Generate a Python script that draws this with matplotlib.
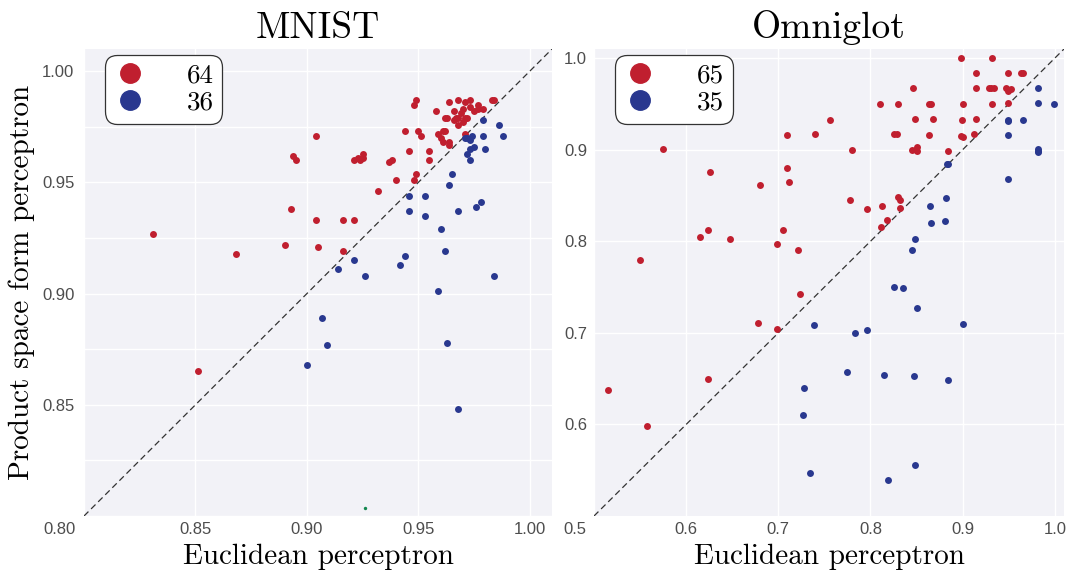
import matplotlib
matplotlib.use('Agg')
import matplotlib.pyplot as plt
import matplotlib.transforms as mtransforms
from matplotlib.lines import Line2D
from matplotlib.ticker import MultipleLocator

# MNIST: punkty nad przekatna (czerwone) i pod nia (niebieskie)
mnist_red_x = [0.831, 0.868, 0.890, 0.893, 0.894, 0.895, 0.904, 0.904, 0.905, 0.916,
               0.921, 0.916, 0.921, 0.923, 0.925, 0.924, 0.925, 0.932, 0.937, 0.938,
               0.940, 0.944, 0.946, 0.948, 0.949, 0.949, 0.948, 0.950, 0.951, 0.955,
               0.955, 0.958, 0.959, 0.960, 0.961, 0.961, 0.962, 0.964, 0.964, 0.964,
               0.962, 0.963, 0.966, 0.967, 0.968, 0.968, 0.970, 0.971, 0.973, 0.971,
               0.968, 0.970, 0.972, 0.973, 0.975, 0.971, 0.977, 0.977, 0.979, 0.983,
               0.984, 0.851, 0.966, 0.969]
mnist_red_y = [0.927, 0.918, 0.922, 0.938, 0.962, 0.960, 0.971, 0.933, 0.921, 0.933,
               0.933, 0.919, 0.960, 0.961, 0.963, 0.960, 0.961, 0.946, 0.959, 0.960,
               0.951, 0.973, 0.964, 0.951, 0.954, 0.987, 0.985, 0.973, 0.971, 0.964,
               0.960, 0.982, 0.972, 0.970, 0.973, 0.968, 0.973, 0.968, 0.967, 0.986,
               0.979, 0.979, 0.982, 0.979, 0.987, 0.979, 0.983, 0.986, 0.987, 0.979,
               0.976, 0.977, 0.979, 0.984, 0.982, 0.972, 0.985, 0.983, 0.983, 0.987,
               0.987, 0.865, 0.978, 0.981]
mnist_blue_x = [0.979, 0.986, 0.988, 0.971, 0.973, 0.974, 0.979, 0.973, 0.972, 0.980,
                0.973, 0.965, 0.964, 0.946, 0.953, 0.946, 0.953, 0.968, 0.976, 0.978,
                0.960, 0.962, 0.944, 0.942, 0.921, 0.914, 0.926, 0.984, 0.959, 0.907,
                0.909, 0.900, 0.963, 0.968, 0.972, 0.975]
mnist_blue_y = [0.978, 0.976, 0.971, 0.970, 0.969, 0.971, 0.971, 0.965, 0.963, 0.965,
                0.960, 0.954, 0.949, 0.944, 0.944, 0.937, 0.935, 0.937, 0.939, 0.941,
                0.929, 0.919, 0.917, 0.913, 0.915, 0.911, 0.908, 0.908, 0.901, 0.889,
                0.877, 0.868, 0.878, 0.848, 0.970, 0.966]
mnist_green = (0.926, 0.8035)

# Omniglot
omni_red_x = [0.550, 0.575, 0.626, 0.615, 0.624, 0.648, 0.680, 0.709, 0.740, 0.756,
              0.709, 0.712, 0.705, 0.699, 0.721, 0.724, 0.780, 0.778, 0.796, 0.812,
              0.818, 0.811, 0.830, 0.832, 0.832, 0.810, 0.830, 0.825, 0.829, 0.846,
              0.848, 0.845, 0.851, 0.850, 0.863, 0.866, 0.868, 0.864, 0.884, 0.898,
              0.932, 0.900, 0.899, 0.898, 0.900, 0.915, 0.915, 0.915, 0.912, 0.929,
              0.934, 0.932, 0.949, 0.947, 0.952, 0.949, 0.949, 0.963, 0.966, 0.678,
              0.699, 0.624, 0.515, 0.558, 0.931]
omni_red_y = [0.780, 0.901, 0.876, 0.805, 0.812, 0.802, 0.862, 0.916, 0.917, 0.932,
              0.880, 0.865, 0.812, 0.797, 0.791, 0.742, 0.900, 0.845, 0.835, 0.838,
              0.823, 0.816, 0.848, 0.845, 0.836, 0.950, 0.950, 0.917, 0.917, 0.967,
              0.934, 0.900, 0.903, 0.899, 0.950, 0.950, 0.934, 0.916, 0.899, 1.000,
              1.000, 0.950, 0.933, 0.915, 0.914, 0.984, 0.967, 0.934, 0.917, 0.967,
              0.967, 0.950, 0.984, 0.967, 0.966, 0.964, 0.951, 0.984, 0.984, 0.711,
              0.704, 0.650, 0.638, 0.598, 0.967]
omni_blue_x = [0.982, 0.982, 0.999, 0.965, 0.949, 0.949, 0.982, 0.982, 0.949, 0.884,
               0.882, 0.865, 0.866, 0.881, 0.848, 0.845, 0.826, 0.835, 0.850, 0.900,
               0.739, 0.783, 0.796, 0.774, 0.815, 0.847, 0.884, 0.728, 0.727, 0.734,
               0.819, 0.848, 0.982, 0.949, 0.883]
omni_blue_y = [0.967, 0.951, 0.950, 0.932, 0.931, 0.916, 0.901, 0.897, 0.868, 0.884,
               0.847, 0.839, 0.820, 0.822, 0.802, 0.790, 0.750, 0.749, 0.727, 0.710,
               0.709, 0.700, 0.703, 0.657, 0.654, 0.653, 0.648, 0.640, 0.610, 0.547,
               0.539, 0.556, 0.899, 0.932, 0.884]

red = '#c01f2f'
blue = '#29388f'
serif = 'cmr10'

fig = plt.figure(figsize=(10.72, 5.83), dpi=100)
ax1 = fig.add_axes([84/1072, 1 - 516/583, 468/1072, 467/583])
ax2 = fig.add_axes([594/1072, 1 - 516/583, 470/1072, 467/583])


def styl(ax, lo, hi, xt, yt, fmt, ypad):
    ax.set_facecolor('#f2f2f7')
    for s in ax.spines.values():
        s.set_visible(False)
    ax.set_xlim(lo, hi)
    ax.set_ylim(lo, hi)
    ax.set_xticks(xt)
    ax.set_xticklabels([fmt % t for t in xt])
    ax.set_yticks(yt)
    ax.set_yticklabels([fmt % t for t in yt])
    ax.tick_params(length=0, labelsize=12, labelcolor='#4d4d4d')
    ax.tick_params(axis='x', pad=4)
    ax.tick_params(axis='y', pad=ypad)
    for lab in ax.get_xticklabels() + ax.get_yticklabels():
        lab.set_fontfamily('Liberation Sans')
    # pierwszy popisek x przesunuty doleva
    first = ax.get_xticklabels()[0]
    first.set_horizontalalignment('right')
    off = mtransforms.ScaledTranslation(-8/100, 0, fig.dpi_scale_trans)
    first.set_transform(first.get_transform() + off)
    ax.grid(True, which='both', color='white', linewidth=1)
    ax.set_axisbelow(True)
    ax.plot([lo, hi], [lo, hi], color='#333333', linestyle='--', linewidth=0.9,
            dashes=(5, 3), zorder=1)


styl(ax1, 0.80, 1.01, [0.80, 0.85, 0.90, 0.95, 1.00], [0.85, 0.90, 0.95, 1.00], '%.2f', 7)
ax1.yaxis.set_minor_locator(MultipleLocator(0.025))
ax1.tick_params(which='minor', length=0)
styl(ax2, 0.50, 1.01, [0.5, 0.6, 0.7, 0.8, 0.9, 1.0], [0.6, 0.7, 0.8, 0.9, 1.0], '%.1f', 5)

ax1.scatter(mnist_red_x, mnist_red_y, s=25, color=red, linewidth=0, zorder=3)
ax1.scatter(mnist_blue_x, mnist_blue_y, s=25, color=blue, linewidth=0, zorder=3)
ax1.scatter([mnist_green[0]], [mnist_green[1]], s=6, color='#13874f', linewidth=0, zorder=3)
ax2.scatter(omni_red_x, omni_red_y, s=25, color=red, linewidth=0, zorder=3)
ax2.scatter(omni_blue_x, omni_blue_y, s=25, color=blue, linewidth=0, zorder=3)

for ax, title, nr, nb in [(ax1, 'MNIST', len(mnist_red_x), len(mnist_blue_x)),
                          (ax2, 'Omniglot', len(omni_red_x), len(omni_blue_x))]:
    ax.set_title(title, fontfamily=serif, fontsize=27, pad=8)
    ax.set_xlabel('Euclidean perceptron', fontfamily=serif, fontsize=21, labelpad=5)
    handles = [Line2D([], [], marker='o', linestyle='', markersize=14, color=red),
               Line2D([], [], marker='o', linestyle='', markersize=14, color=blue)]
    leg = ax.legend(handles, [str(nr), str(nb)], loc='upper left',
                    bbox_to_anchor=(21/468, 1 - 6/467), borderaxespad=0,
                    prop={'family': serif, 'size': 19.5}, frameon=True, fancybox=True,
                    handlelength=1.2, handletextpad=1.5, labelspacing=0.12,
                    borderpad=0.32)
    frame = leg.get_frame()
    frame.set_boxstyle('round', pad=0, rounding_size=0.45)
    frame.set_edgecolor('#333333')
    frame.set_linewidth(0.9)
    frame.set_facecolor('white')
    frame.set_alpha(1)

ax1.set_ylabel('Product space form perceptron', fontfamily=serif, fontsize=21, labelpad=5)

fig.savefig('out.png', dpi=100)
